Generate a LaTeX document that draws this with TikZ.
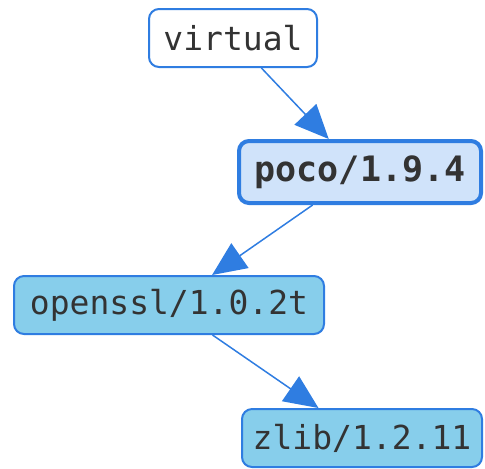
\documentclass[tikz,border=0pt]{standalone}
\usepackage{fontspec}
\setmonofont{DejaVu Sans Mono}
\usetikzlibrary{arrows.meta, positioning}
\definecolor{edgeblue}{HTML}{2F7DE1}
\definecolor{rootfill}{HTML}{D0E3FA}
\definecolor{depfill}{HTML}{87CEEB}
\definecolor{labelgray}{HTML}{333333}

\begin{document}
\begin{tikzpicture}[x=0.5pt, y=-0.5pt,
    pkg/.style={rectangle, rounded corners=5pt, draw=edgeblue, line width=1pt, fill=depfill, text=labelgray, font=\ttfamily\fontsize{16.5}{20}\selectfont, inner sep=0pt, minimum height=29pt},
    virt/.style={pkg, fill=white},
    root/.style={pkg, fill=rootfill, line width=2pt, minimum height=31pt, font=\ttfamily\bfseries\fontsize{17.5}{21}\selectfont},
    arrow/.style={-{Triangle[length=17pt, width=15pt]}, draw=edgeblue, line width=0.75pt}
]
\useasboundingbox (0, 0) rectangle (485, 468);
\node[virt, minimum width=84pt] (virtual) at (233, 38) {virtual};
\node[root, minimum width=121pt] (poco) at (360, 172) {poco/1.9.4};
\node[pkg, minimum width=155pt] (openssl) at (169, 305) {openssl/1.0.2t};
\node[pkg, minimum width=120pt] (zlib) at (362, 438) {zlib/1.2.11};

\draw[arrow] (virtual) -- (poco);
\draw[arrow] (poco) -- (openssl);
\draw[arrow] (openssl) -- (zlib);
\end{tikzpicture}
\end{document}
